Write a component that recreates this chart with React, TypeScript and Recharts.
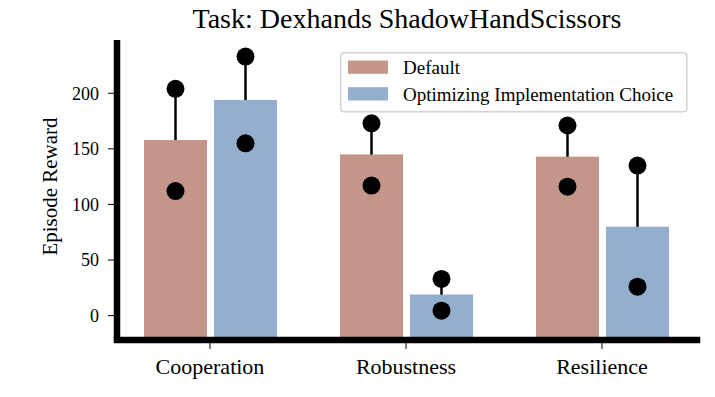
import React from 'react';
import { BarChart, Bar, XAxis, YAxis, ErrorBar, Legend } from 'recharts';

const categories = ['Cooperation', 'Robustness', 'Resilience'];
const seriesNames = ['Default', 'Optimizing Implementation Choice'];
const defaultMean = [158, 145, 143];
const defaultHigh = [204, 173, 171];
const defaultLow = [112, 117, 116];
const optimMean = [194, 19, 80];
const optimHigh = [233, 33, 135];
const optimLow = [155, 4.5, 26];
const yTicks = [0, 50, 100, 150, 200];
const Y_MIN = -21.9;
const Y_MAX = 247.9;

const COLOR_DEF = '#c4968a';
const COLOR_OPT = '#94aecd';
const FONT = '"Liberation Serif", "Times New Roman", serif';

const data = categories.map((c, i) => ({
  category: c,
  def: defaultMean[i],
  defHi: defaultHigh[i],
  defLo: defaultLow[i],
  defErr: [0, defaultHigh[i] - defaultMean[i]],
  opt: optimMean[i],
  optHi: optimHigh[i],
  optLo: optimLow[i],
  optErr: [0, optimHigh[i] - optimMean[i]],
}));

const makeShape = (fill: string, meanKey: string, hiKey: string, loKey: string) => (props: any) => {
  const { x, y, width, height } = props;
  const p = props.payload || props;
  const top = Math.min(y, y + height);
  const h = Math.abs(height);
  const mean = p[meanKey];
  const ppu = h / (mean - Y_MIN);
  const cx = x + width / 2;
  const yHi = top - (p[hiKey] - mean) * ppu;
  const yLo = top - (p[loKey] - mean) * ppu;
  return (
    <g>
      <rect x={x} y={top} width={width} height={h} fill={fill} />
      <line x1={cx} x2={cx} y1={top} y2={yHi} stroke="#000" strokeWidth={2} />
      <circle cx={cx} cy={yHi} r={9} fill="#000" />
      <circle cx={cx} cy={yLo} r={9} fill="#000" />
    </g>
  );
};

const renderLegend = (props: any) => {
  const payload = (props.payload || []) as any[];
  return (
    <svg width={348} height={61} style={{ display: 'block' }}>
      <rect x={0.75} y={0.75} width={346} height={59} rx={3} ry={3} fill="#fff" stroke="#d4d4d4" strokeWidth={1.5} />
      {payload.map((e, i) => (
        <g key={i}>
          <rect x={8} y={8.5 + i * 26.7} width={40} height={13.3} fill={e.color} />
          <text x={63} y={22 + i * 26.7} fontFamily={FONT} fontSize={19} fill="#000">
            {e.value}
          </text>
        </g>
      ))}
    </svg>
  );
};

const YLabel = (props: any) => {
  const vb = props.viewBox || { x: 0, y: 40, width: 117, height: 300 };
  const cx = vb.x + 50;
  const cy = vb.y + vb.height / 2 - 3.5;
  return (
    <text
      x={cx}
      y={cy}
      transform={`rotate(-90, ${cx}, ${cy})`}
      textAnchor="middle"
      dominantBaseline="central"
      fontFamily={FONT}
      fontSize={21}
      fill="#000"
    >
      Episode Reward
    </text>
  );
};

export default function App() {
  return (
    <div style={{ position: 'absolute', left: 0, top: 0, width: 715, height: 397, background: '#fff' }}>
      <BarChart
        width={715}
        height={397}
        data={data}
        margin={{ top: 40, right: 18, bottom: 0, left: 0 }}
        barSize={63}
        barGap={7}
      >
        <XAxis
          dataKey="category"
          interval={0}
          height={57}
          padding={{ left: -5, right: -3 }}
          tick={{ fontFamily: FONT, fontSize: 22, fill: '#000' }}
          tickLine={{ stroke: '#000', strokeWidth: 1 }}
          tickSize={9}
          tickMargin={9}
          axisLine={{ stroke: '#000', strokeWidth: 6.5, strokeLinecap: 'square' }}
        />
        <YAxis
          type="number"
          width={117}
          domain={[Y_MIN, Y_MAX]}
          allowDataOverflow
          ticks={yTicks}
          tick={{ fontFamily: FONT, fontSize: 18, fill: '#000' }}
          tickLine={{ stroke: '#000', strokeWidth: 1 }}
          tickSize={9}
          tickMargin={9}
          axisLine={{ stroke: '#000', strokeWidth: 6.5 }}
          label={<YLabel />}
        />
        <Legend
          layout="vertical"
          align="center"
          verticalAlign="middle"
          content={renderLegend}
          wrapperStyle={{ left: 339.5, top: 51.5, width: 348, height: 61 }}
        />
        <Bar
          name={seriesNames[0]}
          dataKey={(d: any) => [Y_MIN, d.def]}
          fill={COLOR_DEF}
          barSize={63}
          isAnimationActive={false}
          shape={makeShape(COLOR_DEF, 'def', 'defHi', 'defLo')}
        >
          <ErrorBar dataKey="defErr" width={0} stroke="#000" strokeWidth={2} direction="y" isAnimationActive={false} />
        </Bar>
        <Bar
          name={seriesNames[1]}
          dataKey={(d: any) => [Y_MIN, d.opt]}
          fill={COLOR_OPT}
          barSize={63}
          isAnimationActive={false}
          shape={makeShape(COLOR_OPT, 'opt', 'optHi', 'optLo')}
        >
          <ErrorBar dataKey="optErr" width={0} stroke="#000" strokeWidth={2} direction="y" isAnimationActive={false} />
        </Bar>
      </BarChart>
      <svg width={715} height={40} style={{ position: 'absolute', left: 0, top: 0, pointerEvents: 'none' }}>
        <text x={407} y={28} textAnchor="middle" fontFamily={FONT} fontSize={28} fill="#000">
          Task: Dexhands ShadowHandScissors
        </text>
      </svg>
    </div>
  );
}
